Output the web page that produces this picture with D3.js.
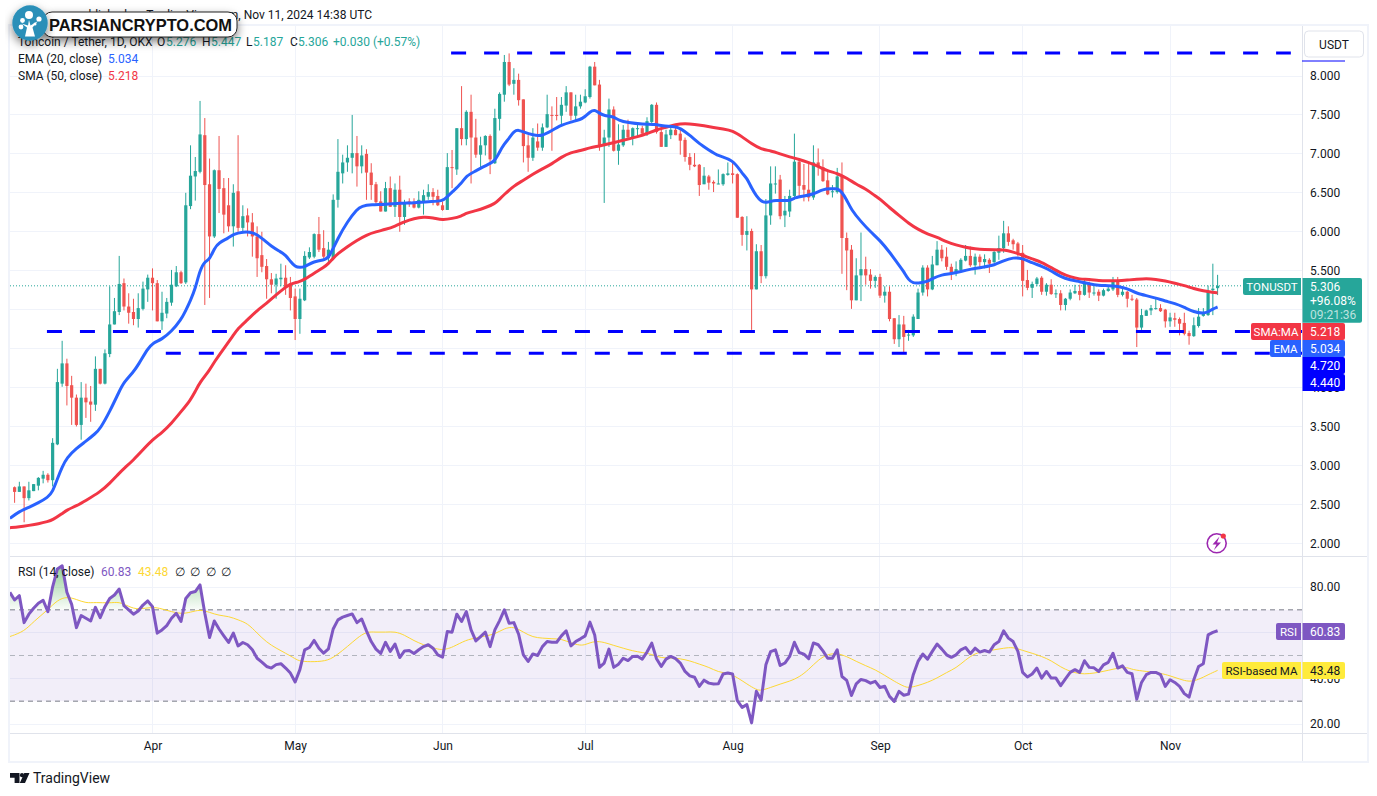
<!DOCTYPE html>
<html>
<head>
<meta charset="utf-8">
<title>TONUSDT</title>
<script src="https://cdn.jsdelivr.net/npm/d3@7/dist/d3.min.js"></script>
<style>
html,body{margin:0;padding:0;background:#fff;overflow:hidden}
svg{display:block}
text{font-family:Roboto,"Liberation Sans",sans-serif;fill:#131722}
</style>
</head>
<body>
<svg id="chart" width="1377" height="796"></svg>
<script>
const startDate = "2024-03-03";
const monthIndex = [29,59,90,120,151,182,212,243];
const monthLabels = ["Apr","May","Jun","Jul","Aug","Sep","Oct","Nov"];
const priceTicks = [2,2.5,3,3.5,4,4.5,5,5.5,6,6.5,7,7.5,8];
const priceLabelTicks = [2,2.5,3,3.5,4,5.5,6,6.5,7,7.5,8];
const rsiTicks = [20,40,60,80];
const rsiLabelTicks = [20,40,80];
const opens = [
2.72,2.66,2.73,2.58,2.67,2.74,2.83,2.88,2.81,3.27,
4.05,4.31,4.03,3.87,3.52,3.87,3.82,3.78,4.24,4.05,
4.43,4.81,4.97,5.34,5.04,4.97,4.88,5.01,5.26,5.41,
5.34,4.85,4.95,5.09,5.30,5.48,5.35,6.33,6.71,6.77,
7.24,6.61,5.94,6.79,6.56,6.34,6.07,6.52,6.05,6.21,
6.12,5.94,5.70,5.56,5.39,5.32,5.39,5.41,5.34,5.17,
4.88,5.12,5.67,5.68,5.97,5.79,5.66,5.66,6.41,6.75,
6.89,6.95,7.01,6.84,7.00,6.76,6.61,6.39,6.26,6.56,
6.32,6.54,6.19,6.39,6.38,6.31,6.39,6.45,6.51,6.46,
6.34,6.28,6.83,6.80,7.33,7.19,7.54,7.21,6.99,7.11,
7.23,6.88,7.45,7.76,8.18,7.90,7.95,7.70,7.11,6.95,
7.16,7.08,7.34,7.50,7.50,7.49,7.62,7.79,7.49,7.61,
7.66,7.73,8.12,7.89,7.10,7.21,7.57,7.04,7.11,7.31,
7.21,7.33,7.33,7.26,7.41,7.63,7.28,7.09,7.24,7.31,
7.26,7.18,6.96,6.86,6.86,6.61,6.71,6.64,6.62,6.61,
6.73,6.75,6.74,6.19,5.96,6.01,5.26,5.75,5.43,6.21,
6.61,6.67,6.21,6.26,6.46,6.90,6.60,6.54,6.44,6.89,
6.83,6.66,6.51,6.51,6.71,5.92,5.77,5.12,5.44,5.52,
5.45,5.37,5.42,5.18,5.23,4.89,4.62,4.81,4.67,4.67,
4.88,5.22,5.54,5.26,5.57,5.77,5.68,5.55,5.47,5.51,
5.63,5.69,5.57,5.68,5.61,5.64,5.61,5.73,5.79,5.98,
5.89,5.85,5.73,5.38,5.28,5.33,5.41,5.23,5.32,5.20,
5.21,5.06,5.14,5.21,5.24,5.19,5.34,5.22,5.23,5.18,
5.24,5.26,5.37,5.19,5.23,5.14,5.13,4.77,4.92,4.99,
5.01,5.02,5.00,4.85,4.89,4.88,4.83,4.70,4.66,4.79,
4.92,4.93,5.25,5.276];
const highs = [
2.73,2.79,2.73,2.79,2.76,2.85,2.93,2.90,3.35,4.24,
4.60,4.37,4.15,3.91,4.07,4.05,4.02,4.40,4.24,4.49,
5.30,5.15,5.69,5.40,5.21,5.14,5.21,5.36,5.45,5.53,
5.38,5.23,5.15,5.51,5.56,5.50,6.50,7.11,6.96,7.68,
7.46,6.94,6.80,7.23,6.69,6.69,6.61,7.24,6.34,6.30,
6.24,6.07,6.00,5.65,5.47,5.46,5.59,5.57,5.42,5.27,
5.27,5.75,5.80,5.98,6.19,6.02,5.87,6.48,7.19,6.99,
7.11,7.50,7.23,7.11,7.06,6.88,6.64,6.52,6.64,6.71,
6.62,6.72,6.41,6.43,6.43,6.52,6.54,6.61,6.56,6.54,
6.39,7.01,7.05,7.33,7.87,7.56,7.76,7.45,7.22,7.24,
7.25,7.58,7.79,8.27,8.29,8.10,8.03,7.70,7.24,7.33,
7.39,7.39,7.76,7.61,7.73,7.73,7.87,7.79,7.76,7.76,
7.83,8.13,8.18,7.95,7.31,7.71,7.61,7.38,7.37,7.44,
7.34,7.39,7.36,7.47,7.64,7.66,7.36,7.31,7.34,7.37,
7.31,7.21,7.01,7.01,6.87,6.83,6.73,6.66,6.80,6.75,
6.89,6.89,6.75,6.20,6.20,6.04,5.84,5.83,6.42,6.84,
6.84,6.73,6.46,6.54,7.26,6.92,6.87,6.90,7.11,7.07,
6.93,6.77,6.60,6.82,6.89,5.99,5.83,5.66,5.99,5.68,
5.52,5.44,5.46,5.30,5.30,4.89,4.93,4.92,4.74,4.94,
5.27,5.57,5.57,5.69,5.88,5.83,5.80,5.59,5.62,5.66,
5.83,5.81,5.72,5.71,5.71,5.66,5.77,5.95,6.14,6.07,
5.91,5.87,5.83,5.51,5.36,5.42,5.43,5.34,5.39,5.26,
5.25,5.15,5.26,5.32,5.32,5.38,5.36,5.30,5.26,5.27,
5.30,5.42,5.42,5.27,5.24,5.19,5.15,5.01,5.00,5.06,
5.15,5.07,5.01,4.96,4.96,4.90,4.96,4.73,4.90,5.02,
5.02,5.31,5.59,5.447];
const lows = [
2.52,2.66,2.27,2.55,2.67,2.68,2.77,2.78,2.73,3.26,
4.01,3.77,3.52,3.50,3.33,3.61,3.56,3.70,4.04,4.04,
4.39,4.81,4.93,4.99,4.82,4.80,4.77,4.99,5.10,4.99,
4.85,4.74,4.89,5.05,5.29,5.33,5.33,6.29,6.40,6.75,
5.06,5.15,5.92,6.24,5.98,6.00,5.81,6.00,5.98,5.94,
5.68,5.42,5.48,5.14,5.21,5.14,5.30,5.19,4.99,4.61,
4.69,5.11,5.65,5.66,5.74,5.66,5.60,5.64,6.31,6.62,
6.77,6.75,6.58,6.75,6.41,6.41,6.36,6.26,6.26,6.32,
6.19,6.00,6.09,6.32,6.30,6.30,6.22,6.41,6.34,6.33,
6.27,6.28,6.56,6.73,7.11,7.11,6.62,6.95,6.83,6.98,
6.74,6.87,7.30,7.67,7.87,7.76,7.62,6.89,6.77,6.91,
7.04,7.04,7.33,7.04,7.43,7.36,7.54,7.43,7.43,7.58,
7.65,7.71,7.88,7.04,6.37,7.09,7.03,6.86,7.09,7.20,
7.11,7.21,7.24,7.23,7.37,7.26,7.09,7.09,7.19,7.24,
6.99,6.90,6.79,6.83,6.46,6.61,6.54,6.51,6.61,6.59,
6.72,6.62,6.18,5.82,5.76,4.74,5.26,5.34,5.40,6.09,
6.49,6.16,6.06,6.19,6.41,6.45,6.39,6.39,6.41,6.72,
6.64,6.47,6.44,6.49,5.46,5.25,5.01,5.12,5.11,5.32,
5.27,5.28,5.15,5.09,4.85,4.56,4.52,4.45,4.60,4.65,
4.88,5.18,5.17,5.25,5.57,5.62,5.51,5.38,5.43,5.49,
5.62,5.55,5.45,5.52,5.53,5.47,5.60,5.64,5.73,5.82,
5.77,5.68,5.17,5.25,5.15,5.30,5.19,5.18,5.19,5.15,
4.99,4.99,5.12,5.20,5.12,5.18,5.15,5.18,5.11,5.17,
5.23,5.24,5.16,5.17,5.03,5.11,4.52,4.74,4.92,4.93,
5.00,4.97,4.77,4.78,4.78,4.67,4.67,4.55,4.65,4.77,
4.91,4.92,4.93,5.187];
const closes = [
2.66,2.73,2.58,2.68,2.76,2.84,2.88,2.81,3.29,4.07,
4.31,4.02,3.87,3.52,3.87,3.81,3.78,4.24,4.05,4.44,
4.81,4.98,5.33,5.04,4.96,4.88,5.02,5.27,5.41,5.34,
4.85,4.96,5.10,5.32,5.48,5.34,6.34,6.72,6.78,7.25,
6.60,5.94,6.79,6.55,6.22,6.07,6.50,6.05,6.20,6.12,
5.94,5.66,5.55,5.39,5.32,5.40,5.41,5.29,5.15,4.88,
5.14,5.69,5.74,5.97,5.77,5.68,5.77,6.41,6.77,6.89,
6.95,7.01,6.84,6.98,6.76,6.60,6.38,6.26,6.56,6.32,
6.54,6.19,6.36,6.37,6.31,6.41,6.47,6.51,6.45,6.34,
6.28,6.83,6.82,7.33,7.19,7.54,7.21,6.99,7.11,7.23,
6.93,7.46,7.77,8.18,7.89,7.95,7.69,7.10,6.95,7.21,
7.08,7.34,7.51,7.49,7.49,7.63,7.79,7.49,7.61,7.67,
7.74,8.12,7.88,7.10,7.21,7.57,7.04,7.12,7.31,7.21,
7.33,7.33,7.26,7.42,7.63,7.28,7.09,7.25,7.31,7.24,
7.17,6.96,6.86,6.84,6.60,6.72,6.63,6.62,6.62,6.74,
6.75,6.73,6.18,5.96,6.01,5.26,5.75,5.43,6.21,6.62,
6.62,6.20,6.27,6.46,6.90,6.59,6.54,6.44,6.89,6.83,
6.65,6.48,6.52,6.71,5.92,5.76,5.12,5.44,5.52,5.44,
5.37,5.42,5.18,5.23,4.88,4.62,4.81,4.65,4.68,4.91,
5.22,5.54,5.26,5.58,5.77,5.66,5.55,5.47,5.52,5.64,
5.69,5.57,5.68,5.61,5.65,5.59,5.74,5.79,5.98,5.87,
5.84,5.73,5.37,5.28,5.33,5.40,5.23,5.32,5.20,5.21,
5.06,5.14,5.22,5.24,5.19,5.36,5.22,5.22,5.18,5.25,
5.27,5.38,5.19,5.23,5.14,5.13,4.77,4.93,4.99,5.02,
5.02,4.98,4.85,4.90,4.87,4.82,4.69,4.66,4.80,4.91,
4.96,5.24,5.27,5.306];
// readings as [candle index, value]
const emaReadings = [[-1,2.32],[1,2.41],[3,2.46],[5,2.52],[7,2.59],[8,2.66],[9,2.83],[10,2.98],[11,3.10],[13,3.22],[15,3.31],[17,3.41],[18,3.47],[20,3.69],[22,3.95],[23,4.07],[25,4.20],[26,4.29],[28,4.50],[29,4.57],[31,4.62],[33,4.72],[35,4.87],[36,4.99],[37,5.12],[38,5.27],[39,5.51],[40,5.62],[41,5.64],[42,5.79],[43,5.86],[45,5.92],[46,5.97],[48,6.00],[50,6.00],[52,5.92],[54,5.81],[56,5.74],[57,5.70],[58,5.62],[59,5.55],[60,5.54],[61,5.55],[63,5.62],[65,5.64],[66,5.65],[68,5.92],[70,6.13],[72,6.29],[73,6.33],[75,6.35],[78,6.35],[81,6.37],[84,6.37],[87,6.39],[90,6.39],[91,6.45],[92,6.51],[94,6.62],[95,6.72],[97,6.78],[99,6.85],[101,6.90],[102,7.03],[103,7.13],[104,7.20],[105,7.29],[106,7.31],[107,7.28],[109,7.24],[111,7.23],[113,7.30],[115,7.37],[117,7.41],[119,7.44],[120,7.48],[121,7.54],[122,7.57],[123,7.52],[124,7.49],[126,7.48],[127,7.43],[129,7.40],[132,7.38],[135,7.38],[136,7.36],[139,7.35],[140,7.33],[142,7.24],[144,7.13],[146,7.05],[148,6.97],[151,6.93],[153,6.75],[154,6.69],[155,6.56],[156,6.46],[157,6.39],[158,6.37],[160,6.41],[163,6.39],[164,6.44],[166,6.46],[168,6.48],[170,6.55],[172,6.55],[173,6.56],[174,6.51],[175,6.41],[176,6.28],[178,6.13],[180,6.00],[182,5.89],[184,5.74],[186,5.57],[187,5.49],[188,5.38],[189,5.34],[190,5.34],[192,5.36],[193,5.40],[195,5.45],[197,5.46],[199,5.49],[201,5.52],[204,5.55],[206,5.57],[208,5.63],[210,5.67],[212,5.66],[214,5.60],[216,5.56],[218,5.50],[220,5.42],[222,5.38],[224,5.36],[226,5.33],[228,5.31],[230,5.31],[232,5.30],[234,5.27],[235,5.24],[236,5.21],[238,5.18],[240,5.15],[242,5.11],[244,5.08],[246,5.03],[248,4.97],[250,4.95],[251,4.97],[252,5.01],[253,5.034]];
const smaReadings = [[-1,2.20],[1,2.21],[3,2.23],[5,2.25],[7,2.28],[8,2.30],[10,2.38],[11,2.43],[13,2.48],[15,2.55],[18,2.66],[20,2.77],[22,2.90],[23,2.96],[25,3.07],[27,3.20],[29,3.33],[31,3.42],[33,3.54],[35,3.69],[37,3.84],[38,3.95],[39,4.07],[41,4.22],[42,4.33],[44,4.50],[46,4.67],[47,4.76],[49,4.87],[51,4.99],[53,5.08],[55,5.19],[57,5.29],[58,5.33],[60,5.36],[61,5.39],[63,5.47],[65,5.54],[66,5.59],[67,5.66],[68,5.72],[70,5.81],[72,5.89],[74,5.96],[76,6.00],[78,6.03],[80,6.07],[82,6.13],[84,6.17],[86,6.19],[88,6.18],[90,6.15],[92,6.17],[94,6.20],[95,6.24],[97,6.27],[99,6.31],[101,6.36],[102,6.42],[103,6.48],[105,6.59],[107,6.66],[109,6.74],[111,6.81],[113,6.87],[115,6.96],[117,7.02],[119,7.04],[121,7.08],[123,7.10],[125,7.13],[127,7.16],[129,7.19],[131,7.22],[133,7.26],[135,7.31],[137,7.34],[139,7.38],[141,7.39],[143,7.38],[145,7.36],[147,7.34],[149,7.32],[151,7.30],[153,7.22],[155,7.13],[157,7.06],[159,7.04],[161,7.00],[163,6.96],[165,6.93],[167,6.89],[169,6.84],[171,6.78],[173,6.75],[175,6.69],[177,6.61],[179,6.55],[181,6.46],[182,6.42],[184,6.31],[186,6.21],[188,6.11],[190,6.03],[192,5.97],[194,5.93],[196,5.87],[198,5.83],[200,5.80],[202,5.78],[204,5.77],[206,5.77],[208,5.77],[210,5.74],[212,5.70],[214,5.65],[216,5.61],[218,5.54],[220,5.47],[222,5.42],[224,5.39],[226,5.39],[228,5.37],[230,5.37],[232,5.37],[234,5.38],[236,5.39],[238,5.40],[240,5.39],[242,5.37],[244,5.34],[246,5.31],[248,5.27],[250,5.24],[252,5.22],[253,5.218]];
const rsiFirstIndex = -1;
const rsiValues = [
77.7,74.3,76.2,64.4,68.1,70.7,72.9,74.2,69.2,80.1,
87.9,89.3,77.7,72.4,62.2,67.5,66.3,65.1,71.1,66.6,
71.4,75.0,76.5,79.1,71.8,70.0,68.1,69.5,72.1,73.9,
71.4,59.8,61.2,63.1,66.3,68.5,64.9,75.0,77.5,78.0,
80.9,68.5,57.9,65.1,61.6,58.6,55.7,59.8,54.2,55.7,
54.7,52.5,48.8,47.1,45.2,44.5,46.0,46.4,44.5,42.3,
38.4,43.8,52.5,53.5,56.6,53.2,51.0,52.9,61.6,65.6,
66.8,67.5,68.2,64.4,66.0,60.8,56.1,52.8,50.9,55.8,
51.8,55.0,49.1,52.0,52.2,50.9,52.5,53.9,54.7,53.2,
50.3,49.3,60.5,60.2,68.1,64.9,69.2,61.2,56.4,58.3,
60.2,53.9,61.2,65.3,70.0,64.1,64.4,59.3,50.3,47.4,
50.7,50.0,53.9,56.1,55.8,55.8,58.6,60.8,54.2,56.1,
57.3,58.6,64.6,59.0,44.8,46.7,52.8,44.8,46.2,48.8,
47.8,49.6,49.7,48.4,51.5,55.4,48.6,45.2,48.4,49.6,
48.6,46.7,43.0,41.1,40.5,36.5,39.2,37.9,37.5,37.6,
41.9,42.3,41.9,30.2,27.3,28.5,20.5,34.3,30.5,45.9,
51.7,52.5,45.6,46.7,49.6,55.8,51.3,50.6,48.6,55.5,
54.7,52.0,48.8,48.8,52.5,40.8,39.1,32.5,37.6,39.5,
39.0,37.9,38.7,36.0,36.5,32.1,29.9,34.3,32.6,33.1,
41.6,47.4,50.6,48.4,51.8,55.0,52.8,50.3,49.2,50.3,
52.5,53.5,50.8,53.2,51.5,52.2,51.5,54.7,56.1,60.8,
57.6,56.1,51.8,42.6,40.6,41.9,44.5,40.1,43.0,40.1,
40.1,36.8,39.8,42.6,43.8,42.6,47.7,44.8,44.6,43.0,
45.9,47.0,51.0,44.5,45.5,42.6,42.0,30.9,38.2,41.6,
42.6,42.6,41.6,36.5,39.4,38.2,36.5,33.3,31.8,39.4,
45.2,46.4,59.0,60.1,60.83];
const rsiMaReadings = [[-1,58.3],[2,60.5],[4,64.9],[7,70.0],[9,74.3],[11,75.8],[13,74.6],[15,72.9],[17,73.3],[20,72.9],[22,73.6],[24,71.4],[26,70.0],[29,71.4],[31,70.4],[33,69.2],[35,68.2],[37,68.9],[39,70.2],[41,68.9],[43,67.5],[45,67.2],[47,65.6],[49,64.1],[51,59.8],[53,55.8],[55,53.2],[57,51.0],[59,48.6],[60,47.4],[63,47.2],[66,47.7],[68,50.6],[70,53.9],[72,57.6],[74,60.5],[76,60.2],[78,60.2],[80,60.5],[82,59.0],[84,56.4],[86,54.7],[88,53.2],[90,52.4],[91,53.0],[92,53.5],[95,56.9],[97,57.6],[99,58.6],[101,59.3],[103,61.9],[105,62.7],[107,60.2],[109,58.0],[111,57.6],[113,57.3],[115,57.3],[117,55.4],[119,54.4],[120,54.7],[122,56.4],[124,55.8],[126,54.4],[128,53.2],[130,52.0],[132,51.3],[134,50.6],[136,48.8],[138,49.0],[140,48.6],[142,47.7],[144,46.2],[146,44.9],[148,42.7],[150,42.3],[152,40.4],[154,37.5],[156,35.0],[157,34.6],[159,36.0],[161,37.5],[163,38.7],[165,40.5],[167,43.8],[169,48.1],[171,50.6],[173,51.0],[175,49.6],[177,47.4],[179,45.5],[181,43.8],[183,41.3],[185,38.7],[187,36.5],[188,35.8],[190,36.8],[192,38.2],[194,40.1],[196,42.6],[198,44.5],[200,48.1],[202,51.0],[204,51.8],[206,52.5],[208,53.2],[210,53.7],[212,52.2],[214,51.0],[216,49.6],[218,47.8],[220,44.9],[222,43.0],[224,41.9],[226,42.0],[228,42.6],[230,43.5],[232,44.5],[234,44.9],[235,43.8],[238,43.0],[241,42.3],[243,41.1],[245,39.7],[247,38.4],[249,39.4],[251,41.6],[253,43.48]];
// horizontal levels: [price, first candle index, last candle index]
const levelPrices = [8.295,4.72,4.44];
const levelFrom = [91.8,6.8,31.8];
const levelTo = [268.4,271,271];
const lastPrice = 5.306;

const UP="#26a69a", DOWN="#ef5350", BLUE="#2962ff", RED="#f23645", PURPLE="#7e57c2", YEL="#ffeb3b", LEVEL="#0000ff", GRID="#f0f3fa", BORDER="#e0e3eb";
const L=10, R=1302, T=26, PB=556, RB=733, B=761, RO=1367;

const svg=d3.select("#chart");
const x=d3.scaleLinear().domain([0,253]).range([14.6,1217.6]);
const y=d3.scaleLinear().domain([2,8]).range([543.3,76]);
const r=d3.scaleLinear().domain([20,80]).range([724,587]);
const startMs=Date.parse(startDate+"T00:00:00Z");
const candles=opens.map((o,i)=>({i,date:new Date(startMs+i*864e5),o,h:highs[i],l:lows[i],c:closes[i]}));

const defs=svg.append("defs");
defs.append("clipPath").attr("id","pricePane").append("rect").attr("x",L).attr("y",T).attr("width",R-L).attr("height",PB-T);
defs.append("clipPath").attr("id","rsiPane").append("rect").attr("x",L).attr("y",PB).attr("width",R-L).attr("height",RB-PB);
defs.append("clipPath").attr("id","above70").append("rect").attr("x",L).attr("y",PB).attr("width",R-L).attr("height",r(70)-PB);
const g=defs.append("linearGradient").attr("id","obGrad").attr("gradientUnits","userSpaceOnUse").attr("x1",0).attr("x2",0).attr("y1",r(90)).attr("y2",r(70));
g.append("stop").attr("offset",0).attr("stop-color","#4caf50").attr("stop-opacity",0.62);
g.append("stop").attr("offset",1).attr("stop-color","#4caf50").attr("stop-opacity",0.03);
const sh=defs.append("filter").attr("id","logoShadow").attr("x","-20%").attr("y","-60%").attr("width","140%").attr("height","260%");
sh.append("feDropShadow").attr("dx",0).attr("dy",4).attr("stdDeviation",5).attr("flood-color","#000").attr("flood-opacity",0.5);

// frame
svg.append("rect").attr("x",L-1).attr("y",T-1).attr("width",RO-L+2).attr("height",B-T+2).attr("fill","none").attr("stroke",GRID).attr("stroke-width",2);

// grid
const grid=svg.append("g").attr("stroke",GRID).attr("stroke-width",1).attr("shape-rendering","crispEdges");
grid.selectAll(".gp").data(priceTicks).join("line").attr("x1",L).attr("x2",R).attr("y1",d=>y(d)).attr("y2",d=>y(d));
grid.selectAll(".gr").data(rsiTicks).join("line").attr("class","gr").attr("x1",L).attr("x2",R).attr("y1",d=>r(d)).attr("y2",d=>r(d));
grid.selectAll(".gm").data(monthIndex).join("line").attr("class","gm").attr("x1",d=>x(d)).attr("x2",d=>x(d)).attr("y1",T).attr("y2",RB);

// price pane
const price=svg.append("g").attr("clip-path","url(#pricePane)");
price.append("line").attr("x1",L).attr("x2",1243).attr("y1",y(lastPrice)).attr("y2",y(lastPrice))
  .attr("stroke",UP).attr("stroke-width",1).attr("stroke-dasharray","1 2");
const cg=price.selectAll(".c").data(candles).join("g");
cg.append("line").attr("x1",d=>x(d.i)).attr("x2",d=>x(d.i)).attr("y1",d=>y(d.h)).attr("y2",d=>y(d.l))
  .attr("stroke",d=>d.c>=d.o?UP:DOWN).attr("stroke-width",1);
cg.append("rect").attr("x",d=>x(d.i)-1.6).attr("width",3.2)
  .attr("y",d=>y(Math.max(d.o,d.c))).attr("height",d=>Math.max(1,Math.abs(y(d.o)-y(d.c))))
  .attr("fill",d=>d.c>=d.o?UP:DOWN);
const ln=d3.line().x(d=>x(d[0])).y(d=>y(d[1])).curve(d3.curveBasis);
price.append("path").attr("d",ln(smaReadings)).attr("fill","none").attr("stroke",RED).attr("stroke-width",3).attr("stroke-linejoin","round");
price.append("path").attr("d",ln(emaReadings)).attr("fill","none").attr("stroke",BLUE).attr("stroke-width",3).attr("stroke-linejoin","round");
levelPrices.forEach((p,k)=>{
  svg.append("line").attr("x1",x(levelFrom[k])).attr("x2",x(levelTo[k])).attr("y1",y(p)).attr("y2",y(p))
    .attr("stroke",LEVEL).attr("stroke-width",3).attr("stroke-dasharray","15 18");
});

// RSI pane
const rsiData=rsiValues.map((v,k)=>[k+rsiFirstIndex,v]);
const rsi=svg.append("g").attr("clip-path","url(#rsiPane)");
rsi.append("rect").attr("x",L).attr("width",R-L).attr("y",r(70)).attr("height",r(30)-r(70)).attr("fill",PURPLE).attr("fill-opacity",0.1);
[[70,"#787b86"],[30,"#787b86"],[50,"#b2b5be"]].forEach(([v,c])=>{
  rsi.append("line").attr("x1",L).attr("x2",R).attr("y1",r(v)).attr("y2",r(v)).attr("stroke",c).attr("stroke-width",1).attr("stroke-dasharray","5 4");
});
rsi.append("g").attr("clip-path","url(#above70)").append("path")
  .attr("d",d3.area().x(d=>x(d[0])).y0(r(70)).y1(d=>r(d[1]))(rsiData)).attr("fill","url(#obGrad)");
rsi.append("path").attr("d",d3.line().x(d=>x(d[0])).y(d=>r(d[1])).curve(d3.curveBasis)(rsiMaReadings)).attr("fill","none").attr("stroke","#fdd835").attr("stroke-width",1);
rsi.append("path").attr("d",d3.line().x(d=>x(d[0])).y(d=>r(d[1]))(rsiData)).attr("fill","none").attr("stroke",PURPLE).attr("stroke-width",3).attr("stroke-linejoin","round");

// axis frame
const fr=svg.append("g").attr("stroke",BORDER).attr("stroke-width",1).attr("shape-rendering","crispEdges");
fr.append("line").attr("x1",L).attr("x2",RO).attr("y1",PB).attr("y2",PB);
fr.append("line").attr("x1",L).attr("x2",RO).attr("y1",RB).attr("y2",RB);
fr.append("line").attr("x1",R).attr("x2",R).attr("y1",T).attr("y2",B);

// axes
function styleAxis(s){s.select(".domain").remove();s.selectAll("line").remove();s.selectAll("text").style("font-family","Roboto").style("font-size","12px").attr("fill","#131722");}
svg.append("g").attr("transform",`translate(1310,0)`).call(d3.axisRight(y).tickValues(priceLabelTicks).tickFormat(d3.format(".3f")).tickSize(0).tickPadding(0)).call(styleAxis);
svg.append("g").attr("transform",`translate(1310,0)`).call(d3.axisRight(r).tickValues(rsiLabelTicks).tickFormat(d3.format(".2f")).tickSize(0).tickPadding(0)).call(styleAxis);
svg.append("g").attr("transform",`translate(0,${RB})`).call(d3.axisBottom(x).tickValues(monthIndex).tickFormat((d,i)=>monthLabels[i]).tickSize(0).tickPadding(8)).call(styleAxis);

// tags
function box(x0,y0,x1,y1,fill,rl,rr){
  const d=`M${x0+rl},${y0}H${x1-rr}Q${x1},${y0} ${x1},${y0+rr}V${y1-rr}Q${x1},${y1} ${x1-rr},${y1}H${x0+rl}Q${x0},${y1} ${x0},${y1-rl}V${y0+rl}Q${x0},${y0} ${x0+rl},${y0}Z`;
  return svg.append("path").attr("d",d).attr("fill",fill);
}
function label(t,xx,yy,fill,anchor,op,size){
  return svg.append("text").attr("x",xx).attr("y",yy).attr("text-anchor",anchor||"start").style("fill",fill||"#131722").style("font-size",(size||12)+"px").attr("fill-opacity",op==null?1:op).text(t);
}
svg.append("line").attr("x1",R).attr("x2",1345).attr("y1",61).attr("y2",61).attr("stroke",LEVEL).attr("stroke-width",1);
box(1243,278,1301,295,UP,2,0); label("TONUSDT",1272,291,"#fff","middle",1,11.5);
box(1302.5,278,1362,322.7,UP,0,2);
label("5.306",1310,291,"#fff"); label("+96.08%",1310,305,"#fff"); label("09:21:36",1310,319,"#fff",null,0.7);
box(1251,323,1301,340,RED,2,0); label("SMA:MA",1276,336,"#fff","middle",1,11.5);
box(1302.5,323,1345,340,RED,0,2); label("5.218",1310,336,"#fff");
box(1270,340,1301,357,BLUE,2,0); label("EMA",1285.5,353,"#fff","middle",1,11.5);
box(1302.5,340,1345,357,BLUE,0,2); label("5.034",1310,353,"#fff");
box(1302.5,357,1345,374,LEVEL,0,2); label("4.720",1310,370,"#fff");
box(1302.5,374,1345,391,LEVEL,0,2); label("4.440",1310,387,"#fff");
box(1276,623,1301,640,PURPLE,2,0); label("RSI",1288.5,636,"#fff","middle",1,11.5);
box(1302.5,623,1345,640,PURPLE,0,2); label("60.83",1310,636,"#fff");
box(1222,662,1301,679,YEL,2,0); label("RSI-based MA",1261.5,675,"#131722","middle",1,11.5);
box(1302.5,662,1345,679,YEL,0,2); label("43.48",1310,675,"#131722");

// USDT button
svg.append("rect").attr("x",1304.5).attr("y",31).attr("width",59).attr("height",26).attr("rx",4).attr("fill","#fff").attr("stroke",BORDER);
label("USDT",1334,49,"#131722","middle");

// header texts
label("published on TradingView.com, Nov 11, 2024 14:38 UTC",372,19,"#131722","end");
function seg(parts,yy){parts.forEach(p=>label(p[0],p[1],yy,p[2]||"#131722"));}
seg([["Toncoin / Tether, 1D, OKX",18],["O",157],["5.276",166,UP],["H",202],["5.447",211,UP],["L",246],["5.187",253,UP],["C",290],["5.306",298,UP],["+0.030 (+0.57%)",333,UP,11.8]],46);
seg([["EMA (20, close)",18],["5.034",108,BLUE]],63);
seg([["SMA (50, close)",18],["5.218",108,RED]],80);
seg([["RSI (14, close)",18],["60.83",101,PURPLE],["43.48",138,"#fdd835"],["∅",175],["∅",190],["∅",206],["∅",221]],576);

// lightning badge
svg.append("circle").attr("cx",1216.7).attr("cy",543.3).attr("r",9.5).attr("fill","#fff").attr("stroke","#9c27b0").attr("stroke-width",1.6);
svg.append("path").attr("d","M1219.5 536.5L1212.5 544.5H1216.5L1213.8 550.2L1221 542.5H1217Z").attr("fill","#9c27b0");
svg.append("circle").attr("cx",1223.3).attr("cy",536).attr("r",2.6).attr("fill","#f23645");

// footer logo
svg.append("path").attr("d","M10 773H19.5V783H14.6V777.8H10Z M29.5 773L25 783H19.8L24.3 773Z").attr("fill","#131722");
svg.append("circle").attr("cx",22).attr("cy",775.2).attr("r",2.1).attr("fill","#131722");
svg.append("text").attr("x",33).attr("y",783).style("font-size","14px").style("fill","#131722").text("TradingView");

// watermark badge
const wm=svg.append("g");
wm.append("rect").attr("x",43).attr("y",12).attr("width",194).attr("height",25).attr("rx",9).attr("fill","#fff").attr("stroke","#222").attr("stroke-width",1).attr("filter","url(#logoShadow)");
wm.append("circle").attr("cx",30).attr("cy",23).attr("r",17.7).attr("fill","#2a8fb8").attr("filter","url(#logoShadow)");
wm.append("path").attr("d","M25 36.5L27 27.5L21.5 23.5L28 25.5L29 20L30.5 25.5L38 21L32.5 27.5L35 36.5Z").attr("fill","#fff");
[[29,15,4],[22.5,20.5,2.4],[39,19,2.6],[21,27,2.4],[35,24,1.5]].forEach(c=>wm.append("circle").attr("cx",c[0]).attr("cy",c[1]).attr("r",c[2]).attr("fill","#fff"));
wm.append("text").attr("x",49).attr("y",31).attr("textLength",183).attr("lengthAdjust","spacingAndGlyphs")
  .style("font-family","'Liberation Sans',Arial,sans-serif").style("font-weight","700").style("font-size","16.5px").style("fill","#111").text("PARSIANCRYPTO.COM");
</script>
</body>
</html>
